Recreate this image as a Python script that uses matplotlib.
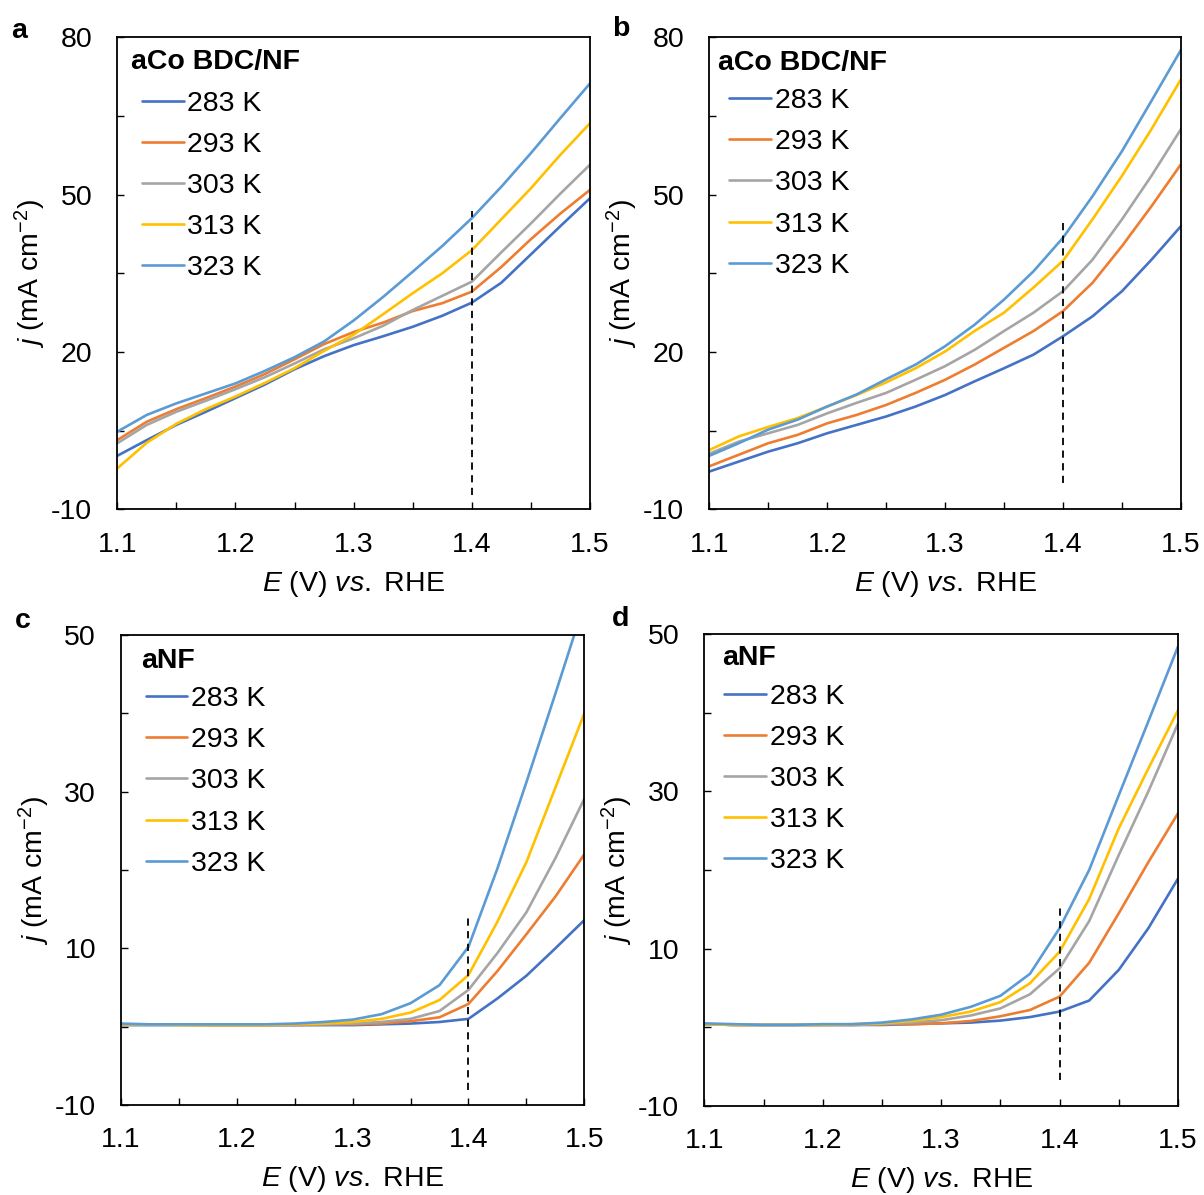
import matplotlib.pyplot as plt
from matplotlib.ticker import FixedLocator

plt.rcParams['font.family'] = ['Liberation Sans', 'DejaVu Sans']
plt.rcParams['mathtext.fontset'] = 'custom'
plt.rcParams['mathtext.rm'] = 'Liberation Sans'
plt.rcParams['mathtext.it'] = 'Liberation Sans:italic'
plt.rcParams['mathtext.bf'] = 'Liberation Sans:bold'
plt.rcParams['axes.unicode_minus'] = False

FS = 20.5

# potential (V vs. RHE)
E = [1.100, 1.125, 1.150, 1.175, 1.200, 1.225, 1.250, 1.275, 1.300,
     1.325, 1.350, 1.375, 1.400, 1.425, 1.450, 1.475, 1.500]

temps = ['283 K', '293 K', '303 K', '313 K', '323 K']
colors = ['#4472C4', '#ED7D31', '#A5A5A5', '#FFC000', '#5B9BD5']

# a : aCo BDC/NF
a_283 = [0.2, 3.2, 6.1, 8.6, 11.2, 13.8, 16.7, 19.2, 21.3, 23.0, 24.8, 26.9, 29.4, 33.2, 38.6, 44.0, 49.3]
a_293 = [3.2, 6.7, 9.1, 11.2, 13.4, 15.8, 18.6, 21.5, 23.8, 25.6, 27.8, 29.3, 31.5, 36.2, 41.5, 46.4, 50.9]
a_303 = [2.6, 6.1, 8.6, 10.7, 12.9, 15.2, 17.8, 20.5, 22.6, 25.0, 28.0, 30.7, 33.4, 39.0, 44.5, 50.2, 55.7]
a_313 = [-2.2, 2.7, 6.3, 9.1, 11.5, 14.1, 16.9, 20.2, 23.3, 27.2, 31.2, 35.0, 39.4, 45.3, 51.2, 57.6, 63.6]
a_323 = [4.8, 8.0, 10.2, 12.1, 14.0, 16.4, 19.0, 22.0, 26.0, 30.5, 35.3, 40.2, 45.5, 51.5, 57.9, 64.6, 71.2]

# b : aCo BDC/NF
b_283 = [-2.8, -0.9, 1.0, 2.6, 4.5, 6.1, 7.7, 9.6, 11.8, 14.4, 16.9, 19.5, 23.0, 26.8, 31.6, 37.6, 44.0]
b_293 = [-1.8, 0.4, 2.6, 4.2, 6.4, 8.0, 9.9, 12.2, 14.7, 17.6, 20.8, 24.0, 27.8, 33.2, 40.2, 47.8, 55.8]
b_303 = [0.6, 2.9, 4.5, 6.1, 8.3, 10.3, 12.2, 14.7, 17.3, 20.4, 24.0, 27.5, 31.6, 37.6, 45.3, 53.6, 62.5]
b_313 = [1.3, 3.9, 5.7, 7.4, 9.6, 11.8, 14.2, 16.9, 20.1, 24.0, 27.5, 32.3, 37.4, 45.3, 53.6, 62.5, 72.0]
b_323 = [0.2, 2.6, 5.2, 7.1, 9.6, 11.9, 14.8, 17.6, 21.1, 25.2, 30.0, 35.4, 41.8, 49.7, 58.3, 67.9, 77.6]

# c : aNF
c_283 = [0.2, 0.2, 0.2, 0.2, 0.2, 0.2, 0.2, 0.2, 0.2, 0.3, 0.4, 0.6, 1.0, 3.6, 6.5, 10.0, 13.6]
c_293 = [0.3, 0.3, 0.3, 0.2, 0.2, 0.2, 0.2, 0.3, 0.3, 0.4, 0.7, 1.2, 2.9, 7.1, 11.8, 16.6, 22.0]
c_303 = [0.3, 0.3, 0.3, 0.3, 0.3, 0.3, 0.3, 0.3, 0.4, 0.6, 1.0, 2.0, 4.7, 9.4, 14.6, 21.5, 29.1]
c_313 = [0.3, 0.3, 0.2, 0.2, 0.2, 0.2, 0.3, 0.4, 0.6, 1.0, 1.8, 3.4, 6.6, 13.4, 21.0, 30.5, 40.0]
c_323 = [0.4, 0.3, 0.3, 0.3, 0.3, 0.3, 0.4, 0.6, 0.9, 1.6, 3.0, 5.3, 10.2, 20.2, 31.2, 42.5, 54.0]

# d : aNF
d_283 = [0.4, 0.3, 0.3, 0.3, 0.3, 0.3, 0.3, 0.4, 0.5, 0.6, 0.85, 1.3, 2.0, 3.4, 7.3, 12.6, 18.9]
d_293 = [0.4, 0.3, 0.3, 0.3, 0.3, 0.3, 0.4, 0.4, 0.5, 0.8, 1.4, 2.2, 3.9, 8.2, 14.5, 21.0, 27.2]
d_303 = [0.4, 0.3, 0.3, 0.3, 0.3, 0.3, 0.4, 0.6, 0.9, 1.5, 2.4, 4.2, 7.5, 13.5, 21.9, 30.0, 38.6]
d_313 = [0.4, 0.3, 0.3, 0.3, 0.3, 0.4, 0.5, 0.8, 1.3, 2.0, 3.2, 5.6, 9.6, 16.3, 25.3, 32.9, 40.3]
d_323 = [0.5, 0.4, 0.3, 0.3, 0.4, 0.4, 0.6, 1.0, 1.6, 2.6, 4.0, 6.8, 12.6, 20.0, 29.5, 38.9, 48.4]

dash_E = 1.4

panels = [
    dict(letter='a', sample='aCo BDC/NF', series=[a_283, a_293, a_303, a_313, a_323],
         pos=[0.0974, 0.5738, 0.3926, 0.3950], ylim=(-10, 80), ystep=15,
         dash=(-7.3, 46.8), title_xy=(0.030, 0.948), leg_xy=(0.052, 0.886),
         letter_xy=(19.5, 30.5)),
    dict(letter='b', sample='aCo BDC/NF', series=[b_283, b_293, b_303, b_313, b_323],
         pos=[0.5891, 0.5738, 0.3918, 0.3950], ylim=(-10, 80), ystep=15,
         dash=(-5.0, 44.8), title_xy=(0.019, 0.945), leg_xy=(0.042, 0.892),
         letter_xy=(621, 29)),
    dict(letter='c', sample='aNF', series=[c_283, c_293, c_303, c_313, c_323],
         pos=[0.1005, 0.0753, 0.3848, 0.3933], ylim=(-10, 50), ystep=10,
         dash=(-8.1, 14.3), title_xy=(0.043, 0.945), leg_xy=(0.053, 0.891),
         letter_xy=(23, 621)),
    dict(letter='d', sample='aNF', series=[d_283, d_293, d_303, d_313, d_323],
         pos=[0.5850, 0.0745, 0.3934, 0.3950], ylim=(-10, 50), ystep=10,
         dash=(-6.7, 15.6), title_xy=(0.037, 0.950), leg_xy=(0.042, 0.895),
         letter_xy=(621, 619)),
]

W, H = 1204, 1195
fig = plt.figure(figsize=(W / 100, H / 100), dpi=100)

for p in panels:
    ax = fig.add_axes(p['pos'])
    handles = []
    for vals, lab, col in zip(p['series'], temps, colors):
        ln, = ax.plot(E, vals, color=col, lw=1.9, label=lab,
                      solid_capstyle='round', solid_joinstyle='round')
        handles.append(ln)
    ax.vlines(dash_E, p['dash'][0], p['dash'][1], colors='black',
              linestyles=(0, (4, 3)), lw=1.3)

    lo, hi = p['ylim']
    st = p['ystep']
    ax.set_xlim(1.1, 1.5)
    ax.set_ylim(lo, hi)
    ax.xaxis.set_major_locator(FixedLocator([1.1, 1.2, 1.3, 1.4, 1.5]))
    ax.xaxis.set_minor_locator(FixedLocator([1.15, 1.25, 1.35, 1.45]))
    ax.yaxis.set_major_locator(FixedLocator(list(range(lo, hi + 1, 2 * st))))
    ax.yaxis.set_minor_locator(FixedLocator(list(range(lo + st, hi, 2 * st))))
    ax.set_xticklabels(['1.1', '1.2', '1.3', '1.4', '1.5'])

    ax.tick_params(which='both', direction='in', length=5, width=1.0,
                   top=False, right=False)
    ax.tick_params(axis='y', which='major', labelsize=FS, pad=18)
    ax.tick_params(axis='x', which='major', labelsize=FS, pad=16)
    for s in ax.spines.values():
        s.set_linewidth(1.3)

    ax.set_xlabel(r'$E$ (V) $vs.$ RHE', fontsize=FS, labelpad=8)
    ax.set_ylabel(r'$j$ (mA cm$^{-2}$)', fontsize=FS, labelpad=2)

    ax.text(p['title_xy'][0], p['title_xy'][1], p['sample'], transform=ax.transAxes,
            fontsize=FS, fontweight='bold', ha='left', va='center')
    ax.legend(handles=handles, loc='upper left', bbox_to_anchor=p['leg_xy'],
              frameon=False, fontsize=FS, handlelength=1.47, handletextpad=0.13,
              labelspacing=0.53, borderpad=0, borderaxespad=0)

    fig.text(p['letter_xy'][0] / W, 1 - p['letter_xy'][1] / H, p['letter'],
             fontsize=FS, fontweight='bold', ha='center', va='center')

fig.savefig('out.png', dpi=100)
